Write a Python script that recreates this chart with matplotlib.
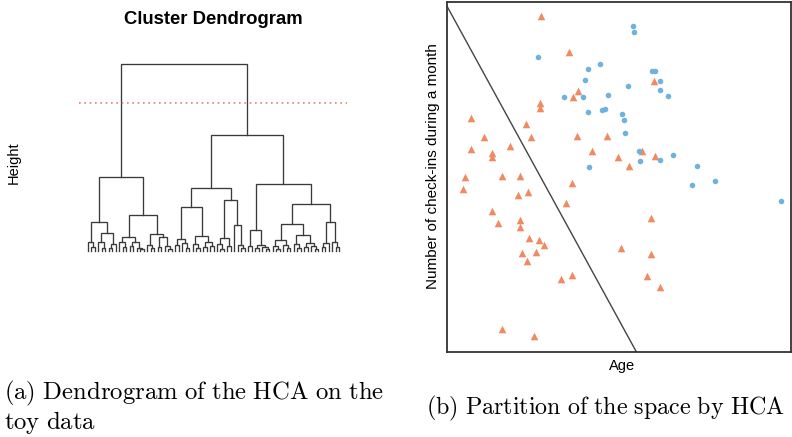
import matplotlib
matplotlib.use("Agg")
import matplotlib.pyplot as plt

plt.rcParams['font.family'] = ['Liberation Sans', 'DejaVu Sans']
plt.rcParams['mathtext.fontset'] = 'cm'

# --- toy data (arbitrary units) ---
orange_age = [94.7, 122.3, 131.7, 126.7, 93.7, 93.7, 24, 79, 37, 84.7, 130, 160.3,
              24.3, 62.7, 44.7, 44.7, 145.7, 171, 182.7, 18, 55.3, 73.3, 208, 196,
              208.7, 205, 174.7, 204.3, 200.3, 213.3, 16, 125.3, 71.3, 81.7, 119,
              45.3, 51, 73.3, 73.7, 82, 92.7, 97, 75.3, 89.7, 80.3, 114.3, 125.7,
              55, 87.3]
orange_checkins = [336, 300.3, 261.3, 254.7, 249.3, 243.7, 234.3, 228, 215.3, 214.7,
                   215.7, 215.7, 203, 206, 198.7, 195.3, 201, 194.7, 186.3, 174.7,
                   176.3, 176.3, 271.3, 201.3, 196, 134.3, 104.3, 98.3, 76.3, 65,
                   163.3, 168.7, 157.3, 160, 148.7, 141.3, 128.7, 132, 124.7, 114,
                   112, 107, 98.7, 99.7, 91.3, 73, 77, 23, 16.3]
blue_age = [186.3, 187.3, 91.7, 153.7, 141, 138, 181.3, 161.3, 117, 136, 141, 155,
            158, 175.7, 178, 179, 193, 193.3, 142.7, 205.5, 208.5, 214, 214, 222,
            214, 227, 250.3, 245.3, 268.7, 334.7]
blue_checkins = [326, 319.7, 295, 288, 283, 272.3, 265.7, 257.3, 254.7, 255.3, 240.3,
                 242, 243.3, 238, 232, 218.7, 201, 191.5, 185.3, 281.3, 281.3, 271.3,
                 261.7, 255.7, 192.3, 197, 185.7, 167.3, 170.7, 150.7]

# separating line of the partition: intercept and slope
line_intercept = 345.8
line_slope = -1.82

# --- dendrogram: [height, left, right], leaf = 0 ---
LLa = [9, 0, [4, 0, 0]]
LLb = [18, [9, 0, [3, 0, 0]], [6.7, [3, 0, 0], 0]]
LRa = [14, [9, 0, [4, 0, 0]], [9, [5, 0, 0], [3, 0, [1.5, 0, 0]]]]
LRb = [16.7, [6, 0, [3, 0, 0]], [14, [4, 0, 0], [5, 0, [2, 0, 0]]]]
left_tree = [74, [29, LLa, LLb], [35.7, LRa, LRb]]

RLa = [44, [12.3, [6, 0, 0], [8, 0, [3, 0, 0]]],
       [14.7, [7, 0, [3, 0, 0]], [9, [4, 0, 0], [5, 0, 0]]]]
RLb = [50.7, [13.3, [7, 0, [2, 0, 0]], [5, 0, 0]], [25.7, 0, [6, 0, [2.5, 0, 0]]]]
RRa = [21.3, [5, 0, 0], [6, [3, 0, 0], [4, 0, [2, 0, 0]]]]
RRb1 = [27.3, [10.7, [5, 0, [2, 0, 0]], [6, 0, [3, 0, 0]]],
        [15.7, [7, 0, [3, 0, 0]], [8, [4, 0, 0], [5, 0, [2, 0, 0]]]]]
RRb2 = [29, [8.3, [4, 0, 0], 0], [9, 0, [4, 0, 0]]]
right_tree = [115.7, [63, RLa, RLb], [66.7, RRa, [47.3, RRb1, RRb2]]]

tree = [186.7, left_tree, right_tree]
cut_height = 147.3


def count_leaves(node):
    if node == 0:
        return 1
    return count_leaves(node[1]) + count_leaves(node[2])


fig = plt.figure(figsize=(7.92, 4.37), dpi=100, facecolor='white')

# ---------------- (a) dendrogram ----------------
ax1 = fig.add_axes([79 / 792, 1 - 251 / 437, 268 / 792, 187 / 437])
n_leaves = count_leaves(tree)
step = 251 / (n_leaves - 1)
ax1.set_xlim(-9 / step, n_leaves - 1 + 8 / step)
ax1.set_ylim(0, tree[0])
ax1.axis('off')

leaf_pos = [0]


def draw(node):
    if node == 0:
        x = leaf_pos[0]
        leaf_pos[0] += 1
        return x, 0
    h, a, b = node
    xa, ha = draw(a)
    xb, hb = draw(b)
    ax1.plot([xa, xa, xb, xb], [ha, h, h, hb], color='#3a3a3a', lw=0.95,
             clip_on=False, solid_joinstyle='miter')
    return (xa + xb) / 2, h


draw(tree)
ax1.axhline(cut_height, color='#f07a74', lw=1.2, ls=(0, (1, 2.2)), clip_on=False)

fig.text(213 / 792, 1 - 19 / 437, 'Cluster Dendrogram', ha='center', va='center',
         fontsize=13.3, fontweight='bold')
fig.text(14 / 792, 1 - 163 / 437, 'Height', ha='center', va='center', rotation=90,
         fontsize=10.5)

# ---------------- (b) scatter ----------------
ax2 = fig.add_axes([447 / 792, 1 - 352 / 437, 344 / 792, 350 / 437])
ax2.scatter(orange_age, orange_checkins, marker='^', s=30, color='#f08a62',
            linewidths=0, zorder=3)
ax2.scatter(blue_age, blue_checkins, marker='o', s=16, color='#6fb2dc',
            linewidths=0, zorder=3)
ax2.axline((0, line_intercept), slope=line_slope, color='#444444', lw=1.0)
ax2.set_xlim(0, 345)
ax2.set_ylim(0, 350)
ax2.set_xticks([])
ax2.set_yticks([])
for sp in ax2.spines.values():
    sp.set_linewidth(1.3)
    sp.set_color('#333333')

fig.text(622 / 792, 1 - 366 / 437, 'Age', ha='center', va='center', fontsize=10.5)
fig.text(433 / 792, 1 - 166 / 437, 'Number of check-ins during a month', ha='center',
         va='center', rotation=90, fontsize=11)

# ---------------- captions ----------------
fig.text(4 / 792, 1 - 393 / 437, r'$\mathrm{(a)\ Dendrogram\ of\ the\ HCA\ on\ the}$',
         ha='left', va='center', fontsize=17.8)
fig.text(4 / 792, 1 - 422 / 437, r'$\mathrm{toy\ data}$', ha='left', va='center',
         fontsize=17.8)
fig.text(426 / 792, 1 - 408 / 437, r'$\mathrm{(b)\ Partition\ of\ the\ space\ by\ HCA}$',
         ha='left', va='center', fontsize=17.3)

fig.savefig('out.png', dpi=100, facecolor='white')
